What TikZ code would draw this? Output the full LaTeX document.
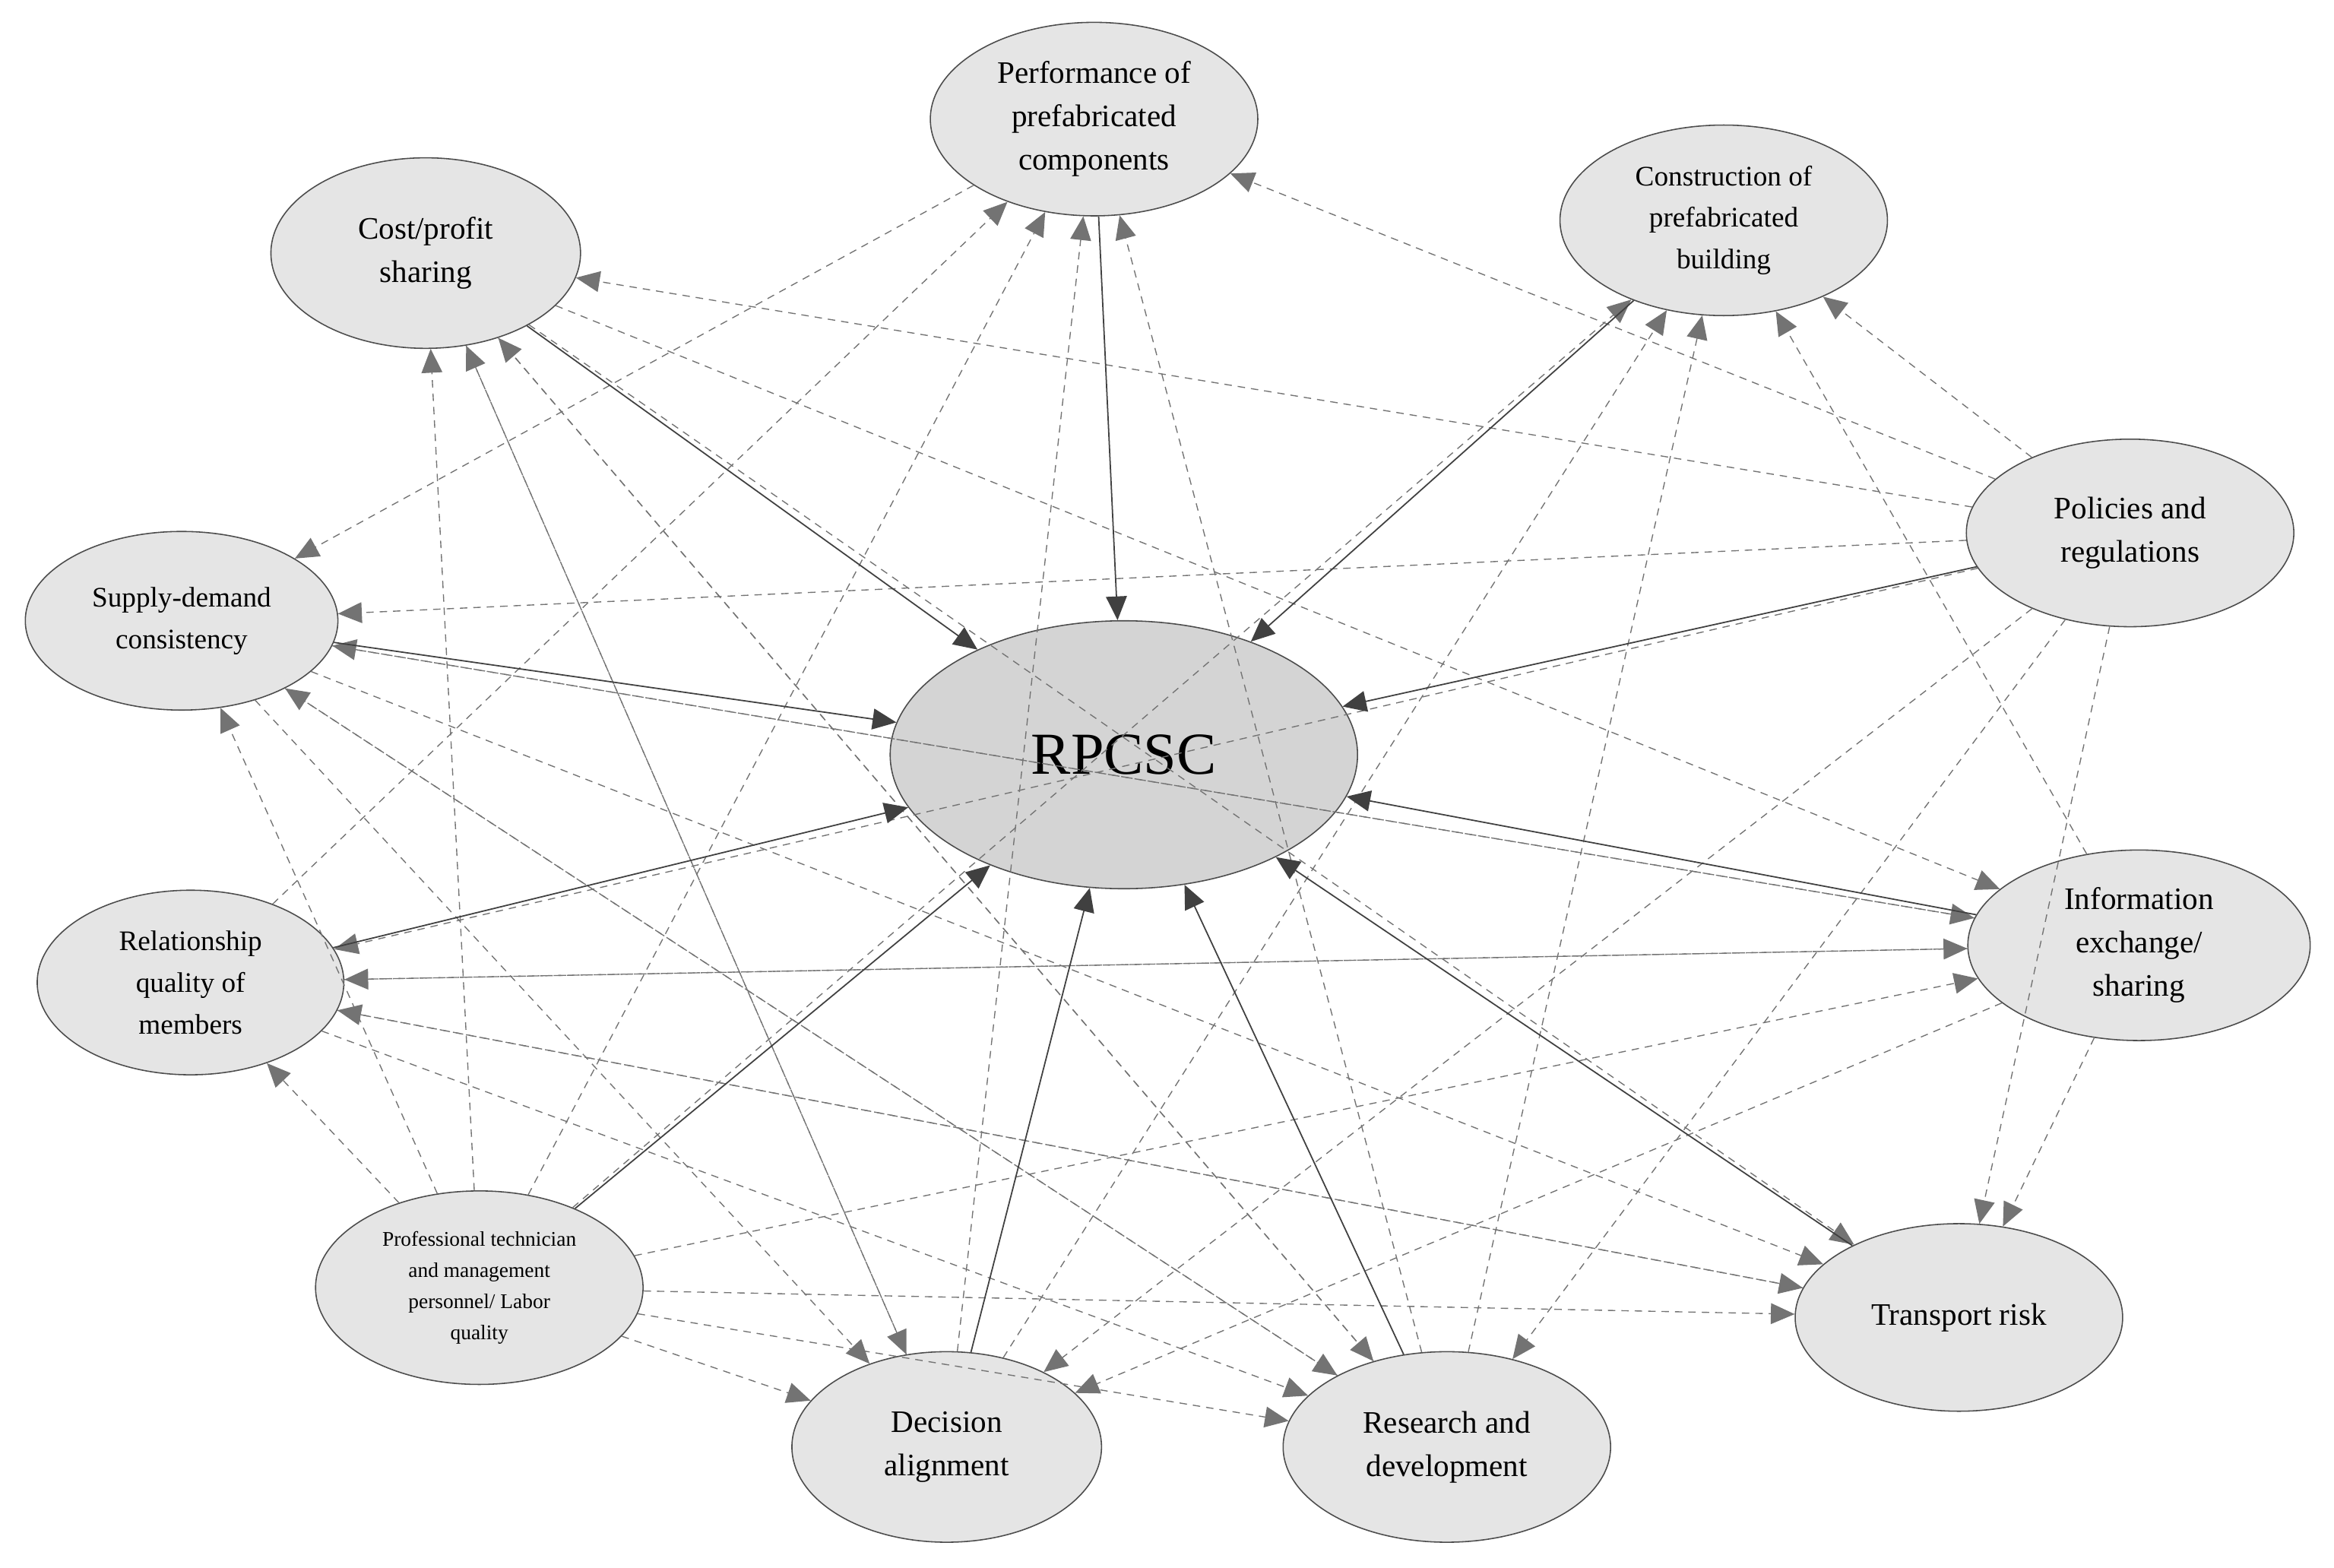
\documentclass[tikz,border=0pt]{standalone}
\usepackage{fontspec}
\setmainfont{Liberation Serif}
\usetikzlibrary{shapes.geometric,arrows.meta}
\begin{document}
\begin{tikzpicture}[x=1pt,y=-1pt,
 el/.style={ellipse,draw=black!70,fill=black!10,line width=0.8pt,inner sep=0pt,align=center,font=\fontsize{21}{29}\selectfont},
 sol/.style={draw=black!75,line width=0.9pt,-{Triangle[length=16pt,width=14pt]}},
 das/.style={draw=black!55,line width=0.7pt,dash pattern=on 5pt off 4pt,-{Triangle[length=16pt,width=14pt]}}]
\useasboundingbox (0,0) rectangle (1568,1053);
\node[el,minimum width=314pt,minimum height=180pt,fill=black!17,font=\fontsize{40}{44}\selectfont] (R) at (755,507) {RPCSC};
\node[el,minimum width=220pt,minimum height=130pt] (P) at (735,80) {Performance of\\prefabricated\\components};
\node[el,minimum width=208pt,minimum height=128pt] (C) at (286,170) {Cost/profit\\sharing};
\node[el,minimum width=220pt,minimum height=128pt,font=\fontsize{19}{28}\selectfont] (B) at (1158,148) {Construction of\\prefabricated\\building};
\node[el,minimum width=220pt,minimum height=126pt] (Po) at (1431,358) {Policies and\\regulations};
\node[el,minimum width=210pt,minimum height=120pt,font=\fontsize{19}{28}\selectfont] (S) at (122,417) {Supply-demand\\consistency};
\node[el,minimum width=230pt,minimum height=128pt] (I) at (1437,635) {Information\\exchange/\\sharing};
\node[el,minimum width=206pt,minimum height=124pt,font=\fontsize{19}{28}\selectfont] (Q) at (128,660) {Relationship\\quality of\\members};
\node[el,minimum width=220pt,minimum height=130pt,font=\fontsize{14}{21}\selectfont] (L) at (322,865) {Professional technician\\and management\\personnel/ Labor\\quality};
\node[el,minimum width=220pt,minimum height=126pt] (T) at (1316,885) {Transport risk};
\node[el,minimum width=208pt,minimum height=128pt] (D) at (636,972) {Decision\\alignment};
\node[el,minimum width=220pt,minimum height=128pt] (E) at (972,972) {Research and\\development};
% dashed
\foreach \a/\b in {Po/P,Po/B,Po/C,Po/S,Po/Q,Po/D,Po/E,Po/T,
 L/C,L/S,L/Q,L/P,L/B,L/I,L/T,L/D,L/E,
 P/S,C/I,C/E,C/D,C/T,S/I,S/T,S/E,S/D,
 Q/I,Q/T,Q/E,Q/P,I/Q,I/S,I/B,I/T,I/D,
 D/P,D/B,D/C,E/P,E/B,E/C,E/S,T/Q}
 \draw[das] (\a) -- (\b);
% solid
\foreach \a in {P,C,B,Po,S,I,Q,L,T,D,E}
 \draw[sol] (\a) -- (R);
\end{tikzpicture}
\end{document}
